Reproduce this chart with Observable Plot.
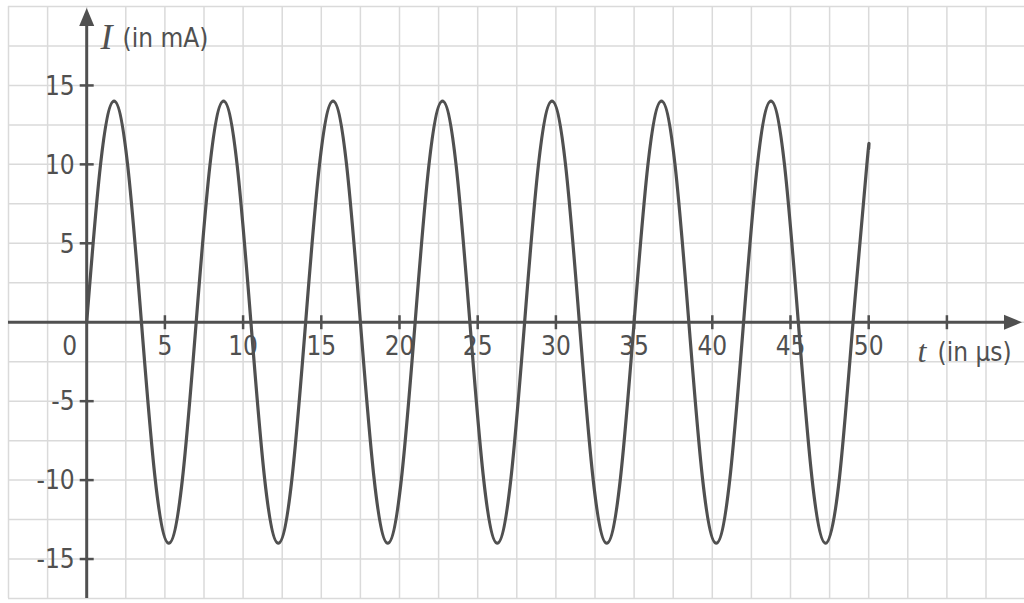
<!DOCTYPE html>
<html>
<head>
<meta charset="utf-8">
<script src="https://cdn.jsdelivr.net/npm/d3@7"></script>
<script src="https://cdn.jsdelivr.net/npm/@observablehq/plot@0.6"></script>
<style>
  html, body { margin: 0; padding: 0; background: #fff; }
  #chart svg text { font-stretch: condensed; }
</style>
</head>
<body>
<div id="chart"></div>
<script>
// Current I (mA) at every 0.875 µs (eighth of a period)
const timeUs = [0, 0.875, 1.75, 2.625, 3.5, 4.375, 5.25, 6.125,
  7, 7.875, 8.75, 9.625, 10.5, 11.375, 12.25, 13.125,
  14, 14.875, 15.75, 16.625, 17.5, 18.375, 19.25, 20.125,
  21, 21.875, 22.75, 23.625, 24.5, 25.375, 26.25, 27.125,
  28, 28.875, 29.75, 30.625, 31.5, 32.375, 33.25, 34.125,
  35, 35.875, 36.75, 37.625, 38.5, 39.375, 40.25, 41.125,
  42, 42.875, 43.75, 44.625, 45.5, 46.375, 47.25, 48.125,
  49, 49.875, 50];
const currentMA = [0, 9.9, 14, 9.9, 0, -9.9, -14, -9.9,
  0, 9.9, 14, 9.9, 0, -9.9, -14, -9.9,
  0, 9.9, 14, 9.9, 0, -9.9, -14, -9.9,
  0, 9.9, 14, 9.9, 0, -9.9, -14, -9.9,
  0, 9.9, 14, 9.9, 0, -9.9, -14, -9.9,
  0, 9.9, 14, 9.9, 0, -9.9, -14, -9.9,
  0, 9.9, 14, 9.9, 0, -9.9, -14, -9.9,
  0, 9.9, 11];

const xTicks = [5, 10, 15, 20, 25, 30, 35, 40, 45, 50, 55];
const xTickLabels = ["5", "10", "15", "20", "25", "30", "35", "40", "45", "50"];
const yTicks = [15, 10, 5, -5, -10, -15];
const yTickLabels = ["15", "10", "5", "-5", "-10", "-15"];
const xGrid = [-5, -2.5, 0, 2.5, 5, 7.5, 10, 12.5, 15, 17.5, 20, 22.5, 25, 27.5, 30,
  32.5, 35, 37.5, 40, 42.5, 45, 47.5, 50, 52.5, 55, 57.5, 60];
const yGrid = [-17.5, -15, -12.5, -10, -7.5, -5, -2.5, 0, 2.5, 5, 7.5, 10, 12.5, 15, 17.5, 20];
const xDomain = [-5, 60];
const yDomain = [-17.5, 20];
const xAxisEnd = 59.8;   // arrow tip of t axis
const yAxisEnd = 19.9;   // arrow tip of I axis

const data = timeUs.map((t, i) => ({t, I: currentMA[i]}));
const ink = "#505050";
const sans = '"DejaVu Sans Condensed", "DejaVu Sans", sans-serif';
const serif = '"Liberation Serif", "DejaVu Serif", serif';

const arrowHead = {draw(ctx) { ctx.moveTo(0, 0); ctx.lineTo(-7.5, 18); ctx.lineTo(7.5, 18); ctx.closePath(); }};
const tickSym = {draw(ctx) { ctx.moveTo(0, -7); ctx.lineTo(0, 7); }};

const chart = Plot.plot({
  width: 1024,
  height: 603,
  margin: 0,
  x: {domain: xDomain, range: [8, 1024.6], axis: null},
  y: {domain: yDomain, range: [598, 6], axis: null},
  style: {background: "white", fontFamily: sans, fontSize: "26px", color: ink},
  marks: [
    // grid
    Plot.ruleX(xGrid, {x: d => d, y1: yDomain[0], y2: yDomain[1], stroke: "#dadada", strokeWidth: 1.5}),
    Plot.ruleY(yGrid, {y: d => d, x1: xDomain[0], x2: xDomain[1], stroke: "#dadada", strokeWidth: 1.5}),
    // axes
    Plot.ruleY([0], {x1: xDomain[0], x2: xAxisEnd - 1, stroke: ink, strokeWidth: 3}),
    Plot.ruleX([0], {y1: yDomain[0], y2: yAxisEnd - 1, stroke: ink, strokeWidth: 3}),
    Plot.dot([0], {x: xAxisEnd, y: 0, symbol: arrowHead, fill: ink, stroke: "none", rotate: 90}),
    Plot.dot([0], {x: 0, y: yAxisEnd, symbol: arrowHead, fill: ink, stroke: "none"}),
    // ticks
    Plot.dot(xTicks, {x: d => d, y: 0, symbol: tickSym, fill: "none", stroke: ink, strokeWidth: 2.5}),
    Plot.dot(yTicks, {x: 0, y: d => d, symbol: tickSym, fill: "none", stroke: ink, strokeWidth: 2.5, rotate: 90}),
    // tick labels
    Plot.text(xTickLabels, {x: (d, i) => xTicks[i], y: 0, text: d => d, dy: 24, fill: ink, fontFamily: sans, fontSize: 26}),
    Plot.text(["0"], {x: 0, y: 0, text: d => d, dx: -17, dy: 24, fill: ink, fontFamily: sans, fontSize: 26}),
    Plot.text(yTickLabels, {x: 0, y: (d, i) => yTicks[i], text: d => d, dx: -12, dy: 1, textAnchor: "end", fill: ink, fontFamily: sans, fontSize: 26}),
    // curve
    Plot.line(data, {x: "t", y: "I", curve: "natural", stroke: ink, strokeWidth: 3.2}),
    // axis titles
    Plot.text(["I"], {frameAnchor: "top-left", dx: 100, dy: 37, lineAnchor: "middle", textAnchor: "start", text: d => d, fontFamily: serif, fontStyle: "italic", fontSize: 36, fill: ink}),
    Plot.text(["(in mA)"], {frameAnchor: "top-left", dx: 122, dy: 38, lineAnchor: "middle", textAnchor: "start", text: d => d, fontFamily: sans, fontSize: 26, fill: ink}),
    Plot.text(["t"], {frameAnchor: "top-left", dx: 917, dy: 351, lineAnchor: "middle", textAnchor: "start", text: d => d, fontFamily: serif, fontStyle: "italic", fontSize: 32, fill: ink}),
    Plot.text(["(in µs)"], {frameAnchor: "top-left", dx: 937, dy: 352, lineAnchor: "middle", textAnchor: "start", text: d => d, fontFamily: sans, fontSize: 26, fill: ink})
  ]
});
document.getElementById("chart").appendChild(chart);
</script>
</body>
</html>
